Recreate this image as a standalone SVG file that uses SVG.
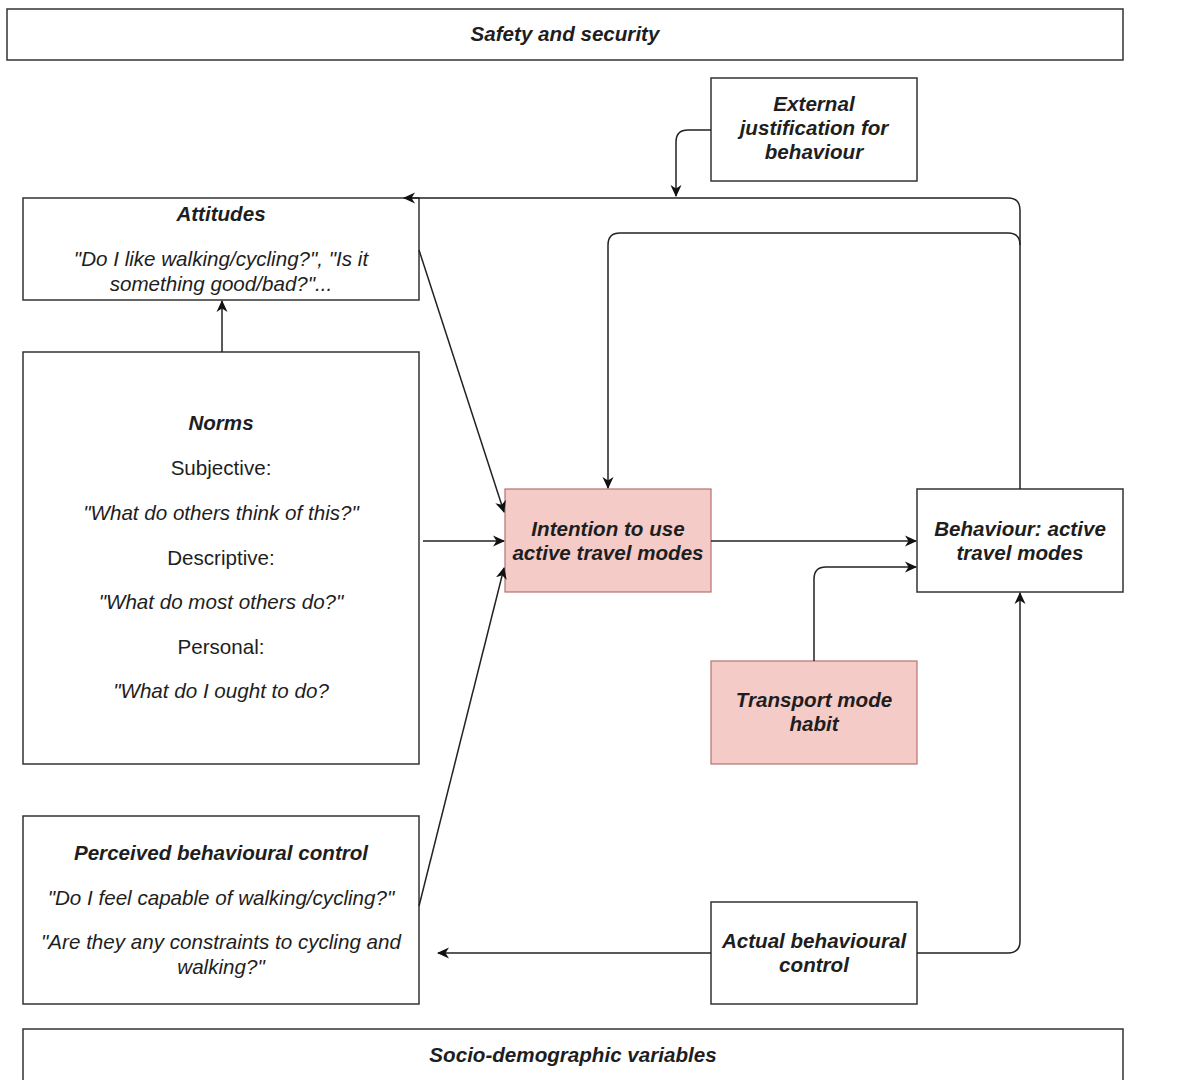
<svg xmlns="http://www.w3.org/2000/svg" width="1192" height="1080" viewBox="0 0 1192 1080">
<style>
.box{fill:#ffffff;stroke:#333333;stroke-width:1.5}
.pink{fill:#f5cbc8;stroke:#b5726e;stroke-width:1.2}
text{font-family:"Liberation Sans",Arial,sans-serif;font-size:20.6px;fill:#1e1e1e;text-anchor:middle}
.t{font-weight:bold;font-style:italic}
.q{font-style:italic}
.c{fill:none;stroke:#222222;stroke-width:1.5}
</style>
<defs>
<marker id="ah" viewBox="0 0 12 12" refX="11" refY="6" markerWidth="12" markerHeight="12" markerUnits="userSpaceOnUse" orient="auto">
<path d="M0,0.5 L12,6 L0,11.5 L3.5,6 Z" fill="#111111"/>
</marker>
</defs>
<rect width="1192" height="1080" fill="#ffffff"/>

<g id="safety">
<rect class="box" x="7" y="9" width="1116" height="51"/>
<text class="t" x="565" y="41">Safety and security</text>
</g>

<g id="socio">
<path class="box" d="M23,1082 V1029 H1123 V1082"/>
<text class="t" x="573" y="1062">Socio-demographic variables</text>
</g>

<g id="external">
<rect class="box" x="711" y="78" width="206" height="103"/>
<text class="t" x="814" y="111">External</text>
<text class="t" x="814" y="135">justification for</text>
<text class="t" x="814" y="159">behaviour</text>
</g>

<g id="attitudes">
<rect class="box" x="23" y="198" width="396" height="102"/>
<text class="t" x="221" y="221">Attitudes</text>
<text class="q" x="221" y="266">"Do I like walking/cycling?", "Is it</text>
<text class="q" x="221" y="291">something good/bad?"...</text>
</g>

<g id="norms">
<rect class="box" x="23" y="352" width="396" height="412"/>
<text class="t" x="221" y="430">Norms</text>
<text x="221" y="475">Subjective:</text>
<text class="q" x="221" y="520">"What do others think of this?"</text>
<text x="221" y="565">Descriptive:</text>
<text class="q" x="221" y="609">"What do most others do?"</text>
<text x="221" y="654">Personal:</text>
<text class="q" x="221" y="698">"What do I ought to do?</text>
</g>

<g id="pbc">
<rect class="box" x="23" y="816" width="396" height="188"/>
<text class="t" x="221" y="860">Perceived behavioural control</text>
<text class="q" x="221" y="905">"Do I feel capable of walking/cycling?"</text>
<text class="q" x="221" y="949">"Are they any constraints to cycling and</text>
<text class="q" x="221" y="974">walking?"</text>
</g>

<g id="intention">
<rect class="pink" x="505" y="489" width="206" height="103"/>
<text class="t" x="608" y="536">Intention to use</text>
<text class="t" x="608" y="560">active travel modes</text>
</g>

<g id="behaviour">
<rect class="box" x="917" y="489" width="206" height="103"/>
<text class="t" x="1020" y="536">Behaviour: active</text>
<text class="t" x="1020" y="560">travel modes</text>
</g>

<g id="habit">
<rect class="pink" x="711" y="661" width="206" height="103"/>
<text class="t" x="814" y="707">Transport mode</text>
<text class="t" x="814" y="731">habit</text>
</g>

<g id="actual">
<rect class="box" x="711" y="902" width="206" height="102"/>
<text class="t" x="814" y="948">Actual behavioural</text>
<text class="t" x="814" y="972">control</text>
</g>

<g id="connectors">
<path class="c" d="M711,130 H688 Q676,130 676,142 V196" marker-end="url(#ah)"/>
<path class="c" d="M1020,489 V210 Q1020,198 1008,198 H404" marker-end="url(#ah)"/>
<path class="c" d="M1020,245 Q1020,233 1008,233 H620 Q608,233 608,245 V488" marker-end="url(#ah)"/>
<path class="c" d="M222,352 V301" marker-end="url(#ah)"/>
<path class="c" d="M419,250 L504,512" marker-end="url(#ah)"/>
<path class="c" d="M423,541 H504" marker-end="url(#ah)"/>
<path class="c" d="M419,906 L504,568" marker-end="url(#ah)"/>
<path class="c" d="M711,541 H916" marker-end="url(#ah)"/>
<path class="c" d="M814,661 V579 Q814,567 826,567 H916" marker-end="url(#ah)"/>
<path class="c" d="M917,953 H1008 Q1020,953 1020,941 V593" marker-end="url(#ah)"/>
<path class="c" d="M711,953 H438" marker-end="url(#ah)"/>
</g>
</svg>
